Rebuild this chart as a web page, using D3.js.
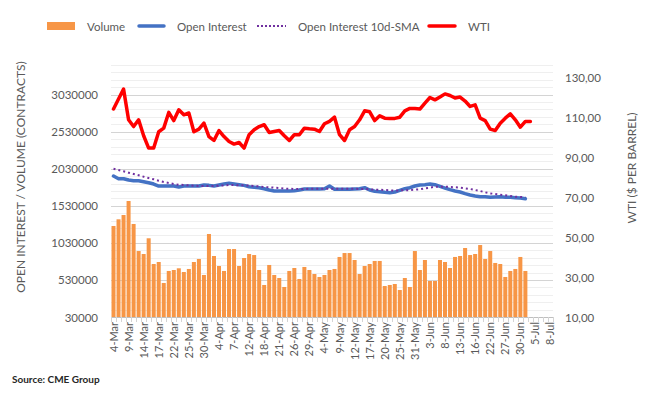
<!DOCTYPE html>
<html>
<head>
<meta charset="utf-8">
<script src="https://cdn.jsdelivr.net/npm/d3@7/dist/d3.min.js"></script>
<style>
  body { margin: 0; background: #fff; }
  svg text { font-family: Lato, "Open Sans", sans-serif; fill: #595959; }
</style>
</head>
<body>
<div id="chart"></div>
<script>
// trading days shown on the category axis
const dates = [
  "4-Mar","7-Mar","8-Mar","9-Mar","10-Mar","11-Mar","14-Mar","15-Mar","16-Mar","17-Mar",
  "18-Mar","21-Mar","22-Mar","23-Mar","24-Mar","25-Mar","28-Mar","29-Mar","30-Mar","31-Mar",
  "1-Apr","4-Apr","5-Apr","6-Apr","7-Apr","8-Apr","11-Apr","12-Apr","13-Apr","14-Apr",
  "18-Apr","19-Apr","20-Apr","21-Apr","22-Apr","25-Apr","26-Apr","27-Apr","28-Apr","29-Apr",
  "2-May","3-May","4-May","5-May","6-May","9-May","10-May","11-May","12-May","13-May",
  "16-May","17-May","18-May","19-May","20-May","23-May","24-May","25-May","26-May","27-May",
  "31-May","1-Jun","2-Jun","3-Jun","6-Jun","7-Jun","8-Jun","9-Jun","10-Jun","13-Jun",
  "14-Jun","15-Jun","16-Jun","17-Jun","21-Jun","22-Jun","23-Jun","24-Jun","27-Jun","28-Jun",
  "29-Jun","30-Jun","1-Jul","4-Jul","5-Jul","6-Jul","7-Jul","8-Jul"
];

// contracts
const volume = [
  1258000,1348000,1406000,1595000,1285000,920000,880000,1092000,745000,772000,
  489000,651000,664000,687000,637000,678000,772000,813000,597000,1150000,
  853000,718000,651000,947000,947000,718000,826000,880000,866000,664000,
  462000,732000,597000,556000,435000,651000,691000,543000,705000,664000,
  610000,570000,597000,664000,678000,840000,893000,893000,799000,610000,
  718000,745000,786000,786000,448000,462000,475000,394000,556000,435000,
  920000,664000,799000,516000,516000,799000,772000,691000,840000,853000,
  961000,866000,880000,1001000,813000,920000,759000,745000,570000,651000,
  678000,840000,651000
];

const openInterest = [
  1932000,1896000,1896000,1878000,1869000,1869000,1855000,1842000,1824000,1797000,
  1797000,1797000,1797000,1784000,1797000,1797000,1797000,1797000,1811000,1806000,
  1797000,1811000,1824000,1834000,1824000,1815000,1806000,1788000,1782000,1775000,
  1761000,1743000,1730000,1730000,1730000,1730000,1734000,1743000,1757000,1757000,
  1757000,1757000,1761000,1797000,1753000,1753000,1753000,1753000,1757000,1761000,
  1775000,1743000,1726000,1721000,1712000,1707000,1716000,1739000,1761000,1775000,
  1797000,1811000,1815000,1824000,1815000,1793000,1770000,1748000,1730000,1716000,
  1694000,1676000,1663000,1653000,1653000,1645000,1649000,1653000,1645000,1645000,
  1640000,1636000,1626000
];

const oiSma10 = [
  2031000,2013000,1996000,1977000,1959000,1942000,1923000,1905000,1888000,1869000,
  1851000,1838000,1824000,1815000,1811000,1806000,1802000,1797000,1797000,1797000,
  1797000,1802000,1806000,1811000,1811000,1806000,1806000,1802000,1797000,1793000,
  1784000,1780000,1775000,1770000,1761000,1761000,1757000,1757000,1757000,1761000,
  1761000,1761000,1761000,1761000,1761000,1761000,1761000,1761000,1761000,1757000,
  1757000,1753000,1748000,1748000,1743000,1739000,1734000,1739000,1739000,1743000,
  1748000,1753000,1766000,1775000,1788000,1788000,1788000,1784000,1780000,1775000,
  1766000,1757000,1743000,1730000,1712000,1698000,1690000,1681000,1672000,1663000,
  1653000,1649000,1645000
];

// $ per barrel
const wti = [
  114.4,119.4,124.4,109.0,105.6,109.0,101.0,94.8,94.8,103.0,
  104.8,112.7,108.6,114.0,111.5,112.4,103.0,104.3,107.3,100.6,
  98.6,103.6,100.6,98.1,96.8,97.6,94.8,101.5,104.0,105.6,
  106.5,102.6,103.1,103.6,101.0,98.6,101.5,101.5,104.8,104.5,
  104.3,103.1,107.0,108.2,110.3,101.5,98.6,104.0,105.6,109.0,
  113.5,113.0,108.6,111.0,109.8,109.7,109.7,110.3,113.5,114.7,
  114.7,114.4,117.4,120.2,119.0,120.4,122.0,121.2,119.9,120.4,
  118.4,115.7,116.5,109.8,108.6,104.3,103.6,107.3,109.8,112.0,
  109.0,105.3,108.2,108.2
];

const leftTicks = [30000, 530000, 1030000, 1530000, 2030000, 2530000, 3030000];
const rightTicks = [10, 30, 50, 70, 90, 110, 130];

const W = 654, H = 398;
const plotL = 111, plotR = 553, plotT = 65, plotB = 317;

const svg = d3.select("#chart").append("svg")
  .attr("width", W).attr("height", H);

const x = d3.scaleBand().domain(dates).range([plotL, plotR]).paddingInner(0.2).paddingOuter(0.1);
const step = x.step();
const cx = d => x(d) + x.bandwidth() / 2;
const yL = d3.scaleLinear().domain([30000, 3430000]).range([plotB, plotT]);
const yR = d3.scaleLinear().domain([10, 136.5]).range([plotB, plotT]);

// gridlines: light every 100k, darker at labelled ticks
const minor = d3.range(30000, 3430001, 100000);
svg.append("g").selectAll("line").data(minor).enter().append("line")
  .attr("x1", plotL).attr("x2", plotR)
  .attr("y1", d => Math.round(yL(d)) + 0.5).attr("y2", d => Math.round(yL(d)) + 0.5)
  .attr("stroke", d => leftTicks.includes(d) ? "#d4d4d4" : "#efefef")
  .attr("stroke-width", 1);

// volume bars
svg.append("g").selectAll("rect").data(volume).enter().append("rect")
  .attr("x", (d, i) => x(dates[i]))
  .attr("width", x.bandwidth())
  .attr("y", d => yL(d))
  .attr("height", d => yL(30000) - yL(d))
  .attr("fill", "#f79646");

// open interest
svg.append("path")
  .attr("d", d3.line().x((d, i) => cx(dates[i])).y(d => yL(d))(openInterest))
  .attr("fill", "none").attr("stroke", "#4472c4").attr("stroke-width", 3.5)
  .attr("stroke-linejoin", "round").attr("stroke-linecap", "round");

// 10d SMA
svg.append("path")
  .attr("d", d3.line().x((d, i) => cx(dates[i])).y(d => yL(d))(oiSma10))
  .attr("fill", "none").attr("stroke", "#7030a0").attr("stroke-width", 2)
  .attr("stroke-dasharray", "2,3");

// WTI
svg.append("path")
  .attr("d", d3.line().x((d, i) => cx(dates[i])).y(d => yR(d))(wti))
  .attr("fill", "none").attr("stroke", "#ff0000").attr("stroke-width", 3.5)
  .attr("stroke-linejoin", "round").attr("stroke-linecap", "round");

// x axis
const xAxis = svg.append("g").attr("transform", `translate(0,${plotB})`);
xAxis.append("line").attr("x1", plotL).attr("x2", plotR).attr("y1", 0.5).attr("y2", 0.5)
  .attr("stroke", "#bfbfbf");
const bounds = dates.map(d => x(d) - step * 0.1).concat([plotR]);
xAxis.selectAll(".tk").data(bounds).enter().append("line")
  .attr("x1", d => Math.round(d) + 0.5).attr("x2", d => Math.round(d) + 0.5)
  .attr("y1", 0).attr("y2", 5).attr("stroke", "#d4d4d4");
xAxis.selectAll("text").data(dates.filter((d, i) => i % 3 === 0)).enter().append("text")
  .attr("transform", d => `translate(${cx(d) + 4},5) rotate(-90)`)
  .attr("text-anchor", "end")
  .attr("font-size", 11)
  .text(d => d);

// left axis labels
svg.append("g").selectAll("text").data(leftTicks).enter().append("text")
  .attr("x", 98).attr("y", d => yL(d) + 4.5)
  .attr("text-anchor", "end").attr("font-size", 11.5)
  .text(d => d);

// right axis labels
const fmtR = d => d3.format(".2f")(d).replace(".", ",");
svg.append("g").selectAll("text").data(rightTicks).enter().append("text")
  .attr("x", 565).attr("y", d => yR(d) + 4.5)
  .attr("text-anchor", "start").attr("font-size", 11.5)
  .text(fmtR);

// axis titles
svg.append("text").attr("transform", "translate(25,177) rotate(-90)")
  .attr("text-anchor", "middle").attr("font-size", 12)
  .text("OPEN INTEREST / VOLUME (CONTRACTS)");
svg.append("text").attr("transform", "translate(636,168) rotate(-90)")
  .attr("text-anchor", "middle").attr("font-size", 12)
  .text("WTI ($ PER BARREL)");

// legend
const lg = svg.append("g").attr("font-size", 11.5);
lg.append("rect").attr("x", 47).attr("y", 22).attr("width", 28).attr("height", 8).attr("fill", "#f79646");
lg.append("text").attr("x", 87).attr("y", 30.5).text("Volume");
lg.append("line").attr("x1", 139).attr("x2", 164).attr("y1", 26).attr("y2", 26)
  .attr("stroke", "#4472c4").attr("stroke-width", 3.5).attr("stroke-linecap", "round");
lg.append("text").attr("x", 177).attr("y", 30.5).text("Open Interest");
lg.append("line").attr("x1", 257).attr("x2", 286).attr("y1", 26).attr("y2", 26)
  .attr("stroke", "#7030a0").attr("stroke-width", 2).attr("stroke-dasharray", "2,2");
lg.append("text").attr("x", 298).attr("y", 30.5).text("Open Interest 10d-SMA");
lg.append("line").attr("x1", 429).attr("x2", 455).attr("y1", 26).attr("y2", 26)
  .attr("stroke", "#ff0000").attr("stroke-width", 3.5).attr("stroke-linecap", "round");
lg.append("text").attr("x", 468).attr("y", 30.5).text("WTI");

// source
svg.append("text").attr("x", 12).attr("y", 383)
  .attr("font-size", 10).attr("font-weight", "bold").style("fill", "#262626")
  .text("Source: CME Group");
</script>
</body>
</html>
